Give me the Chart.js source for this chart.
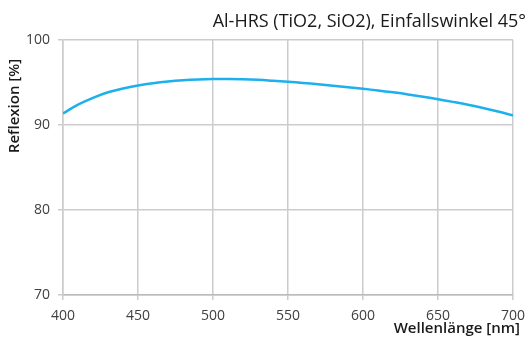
<!DOCTYPE html>
<html>
<head>
<meta charset="utf-8">
<script src="https://cdn.jsdelivr.net/npm/chart.js@4/dist/chart.umd.min.js"></script>
<style>
  html, body { margin: 0; padding: 0; background: #fff; }
  #wrap { width: 529px; height: 343px; position: relative; }
</style>
</head>
<body>
<div id="wrap"><canvas id="c"></canvas></div>
<script>
// Wavelength samples (nm) and measured reflectance (%)
const wavelengths = [400, 410, 420, 430, 440, 450, 460, 470, 480, 490, 500,
                     510, 520, 530, 540, 550, 560, 570, 580, 590, 600,
                     610, 620, 630, 640, 650, 660, 670, 680, 690, 700];
const reflexion = [91.35, 92.4, 93.2, 93.85, 94.3, 94.65, 94.92, 95.12, 95.26, 95.35, 95.4,
                   95.41, 95.38, 95.31, 95.2, 95.08, 94.95, 94.8, 94.63, 94.45, 94.26,
                   94.06, 93.84, 93.6, 93.33, 93.04, 92.72, 92.38, 92.0, 91.58, 91.12];
const xTicks = [400, 450, 500, 550, 600, 650, 700];
const yTicks = [70, 80, 90, 100];

const chartTitle = 'Al-HRS (TiO2, SiO2), Einfallswinkel 45°';
const xTitle = 'Wellenlänge [nm]';
const yTitle = 'Reflexion [%]';

const FONT = '"Open Sans", "DejaVu Sans", sans-serif';

// Chart title and axis titles at fixed spots around the plot area
const titles = {
  id: 'titles',
  afterDraw(chart) {
    const ctx = chart.ctx;
    ctx.save();
    ctx.fillStyle = '#1a1a1a';
    ctx.textBaseline = 'middle';
    ctx.font = '500 18px ' + FONT;
    ctx.textAlign = 'right';
    ctx.fillText(chartTitle, 526, 22);
    ctx.font = '600 15px ' + FONT;
    ctx.fillText(xTitle, 520, 329);
    ctx.translate(15, 106);
    ctx.rotate(-Math.PI / 2);
    ctx.textAlign = 'center';
    ctx.fillText(yTitle, 0, 0);
    ctx.restore();
  }
};

new Chart(document.getElementById('c'), {
  type: 'line',
  data: {
    datasets: [{
      data: wavelengths.map((w, i) => ({ x: w, y: reflexion[i] })),
      borderColor: '#1cb0ec',
      borderWidth: 2.5,
      pointRadius: 0,
      fill: false,
      tension: 0.4
    }]
  },
  options: {
    responsive: true,
    maintainAspectRatio: false,
    animation: false,
    events: [],
    layout: { padding: { top: 40, right: 16, left: 0, bottom: 0 } },
    plugins: { legend: { display: false }, tooltip: { enabled: false } },
    scales: {
      x: {
        type: 'linear',
        min: 400, max: 700,
        afterFit(s) { s.height = 48; s.paddingLeft = 0; s.paddingRight = 0; },
        afterBuildTicks(s) { s.ticks = xTicks.map(v => ({ value: v })); },
        grid: { color: '#cccccc', lineWidth: 1.5, tickLength: 5 },
        border: { color: '#bbbbbb', width: 1.5 },
        ticks: { color: '#404040', font: { family: FONT, size: 14 }, padding: 8, maxRotation: 0 }
      },
      y: {
        min: 70, max: 100,
        afterFit(s) { s.width = 63; s.paddingTop = 0; s.paddingBottom = 0; },
        afterBuildTicks(s) { s.ticks = yTicks.map(v => ({ value: v })); },
        grid: { color: '#cccccc', lineWidth: 1.5, tickLength: 5 },
        border: { color: '#cccccc', width: 1.5 },
        ticks: { color: '#404040', font: { family: FONT, size: 14 }, padding: 8 }
      }
    }
  },
  plugins: [titles]
});
</script>
</body>
</html>
